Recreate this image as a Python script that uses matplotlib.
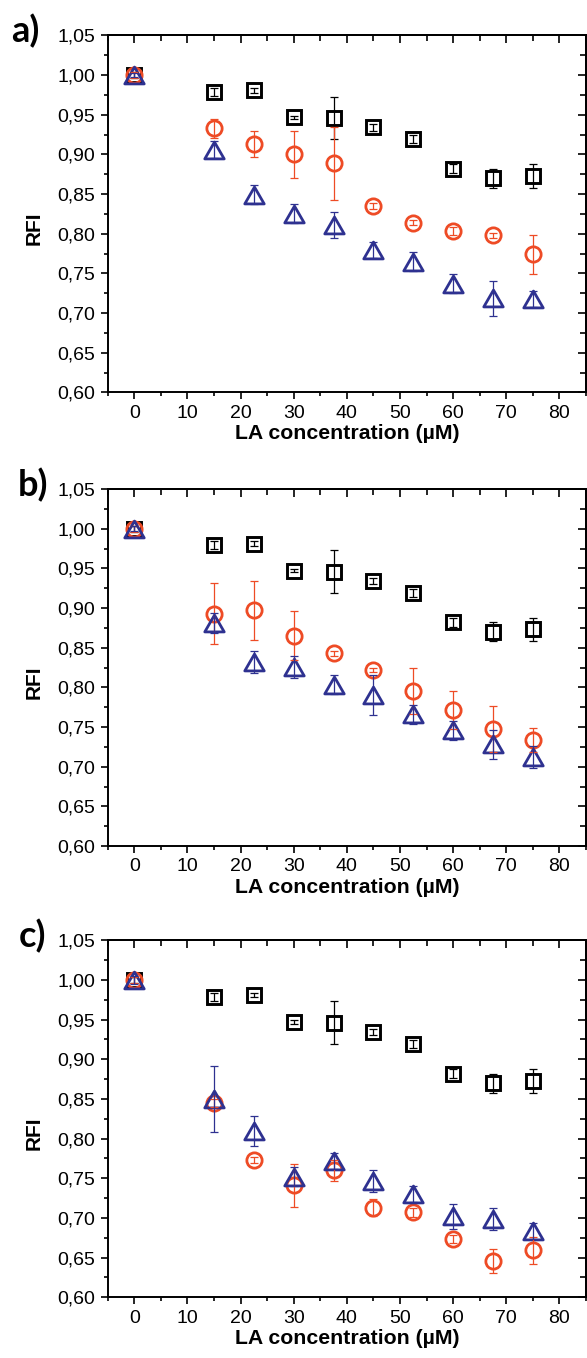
import matplotlib

matplotlib.use("Agg")

import matplotlib.pyplot as plt
from matplotlib.path import Path
from matplotlib.ticker import FuncFormatter, MultipleLocator, NullFormatter

# LA concentration (uM)
la_conc = [0, 15, 22.5, 30, 37.5, 45, 52.5, 60, 67.5, 75]

# control series (squares), same in every panel
ctrl_rfi = [1.000, 0.979, 0.981, 0.947, 0.946, 0.934, 0.919, 0.882, 0.870, 0.873]
ctrl_err = [0.004, 0.005, 0.003, 0.002, 0.027, 0.004, 0.005, 0.006, 0.012, 0.015]

# panel a
a_circ_rfi = [1.000, 0.933, 0.913, 0.900, 0.889, 0.835, 0.814, 0.803, 0.798, 0.774]
a_circ_err = [0.004, 0.012, 0.016, 0.030, 0.046, 0.004, 0.003, 0.005, 0.003, 0.025]
a_tri_rfi = [1.000, 0.906, 0.849, 0.825, 0.811, 0.780, 0.765, 0.737, 0.719, 0.718]
a_tri_err = [0.003, 0.011, 0.012, 0.012, 0.016, 0.010, 0.012, 0.012, 0.022, 0.010]

# panel b
b_circ_rfi = [1.000, 0.893, 0.897, 0.865, 0.843, 0.822, 0.796, 0.772, 0.747, 0.734]
b_circ_err = [0.004, 0.038, 0.037, 0.031, 0.003, 0.003, 0.029, 0.024, 0.029, 0.015]
b_tri_rfi = [1.000, 0.881, 0.832, 0.826, 0.803, 0.790, 0.766, 0.746, 0.728, 0.712]
b_tri_err = [0.003, 0.013, 0.014, 0.014, 0.012, 0.025, 0.012, 0.012, 0.018, 0.014]

# panel c
c_circ_rfi = [1.000, 0.845, 0.773, 0.741, 0.760, 0.713, 0.707, 0.673, 0.646, 0.659]
c_circ_err = [0.004, 0.005, 0.004, 0.027, 0.013, 0.011, 0.006, 0.005, 0.015, 0.017]
c_tri_rfi = [1.000, 0.850, 0.810, 0.752, 0.772, 0.747, 0.730, 0.702, 0.699, 0.684]
c_tri_err = [0.005, 0.042, 0.019, 0.012, 0.010, 0.014, 0.010, 0.016, 0.014, 0.010]

panel_labels = ["a)", "b)", "c)"]
panels = [
    (a_circ_rfi, a_circ_err, a_tri_rfi, a_tri_err),
    (b_circ_rfi, b_circ_err, b_tri_rfi, b_tri_err),
    (c_circ_rfi, c_circ_err, c_tri_rfi, c_tri_err),
]

RED = "#EE4B25"
BLUE = "#2E3190"
TRIANGLE = Path([(-1, -0.866), (1, -0.866), (0, 0.866), (-1, -0.866)],
                [Path.MOVETO, Path.LINETO, Path.LINETO, Path.CLOSEPOLY])

plt.rcParams["font.family"] = ["Liberation Sans", "DejaVu Sans"]

fig = plt.figure(figsize=(5.87, 13.58), dpi=100)
bottoms = [0.7110, 0.3770, 0.0447]
letter_x = [-0.202, -0.188, -0.186]
comma = FuncFormatter(lambda v, pos: f"{v:.2f}".replace(".", ","))


def draw_series(ax, y, err, color, marker, ms, mew):
    ax.errorbar(la_conc, y, yerr=err, fmt="none", ecolor=color, elinewidth=0.9,
                capsize=3.2, capthick=0.9, zorder=4)
    ax.plot(la_conc, y, linestyle="none", marker=marker, markersize=ms,
            markerfacecolor="none", markeredgecolor=color, markeredgewidth=mew, zorder=3)


for bottom, lx, label, (circ, circ_err, tri, tri_err) in zip(bottoms, letter_x, panel_labels, panels):
    ax = fig.add_axes([0.1835, bottom, 0.8148, 0.2629])
    draw_series(ax, ctrl_rfi, ctrl_err, "black", "s", 10, 2.1)
    draw_series(ax, circ, circ_err, RED, "o", 11, 2.0)
    draw_series(ax, tri, tri_err, BLUE, TRIANGLE, 14, 2.0)

    ax.set_xlim(-5, 85)
    ax.set_ylim(0.60, 1.05)
    ax.xaxis.set_major_locator(MultipleLocator(10))
    ax.xaxis.set_minor_locator(MultipleLocator(5))
    ax.yaxis.set_major_locator(MultipleLocator(0.05))
    ax.yaxis.set_minor_locator(MultipleLocator(0.025))
    ax.yaxis.set_major_formatter(comma)
    ax.tick_params(which="both", direction="out", width=1.2, labelsize=14, pad=4)
    ax.tick_params(which="major", length=4.8)
    ax.tick_params(which="minor", length=3)
    for spine in ax.spines.values():
        spine.set_linewidth(1.4)

    # mirrored ticks pointing inwards on top and right
    top = ax.secondary_xaxis("top")
    top.xaxis.set_major_locator(MultipleLocator(10))
    top.xaxis.set_minor_locator(MultipleLocator(5))
    top.xaxis.set_major_formatter(NullFormatter())
    top.tick_params(which="both", direction="in", width=1.2)
    top.tick_params(which="major", length=6)
    top.tick_params(which="minor", length=4)
    top.spines["top"].set_linewidth(1.4)
    right = ax.secondary_yaxis("right")
    right.yaxis.set_major_locator(MultipleLocator(0.05))
    right.yaxis.set_minor_locator(MultipleLocator(0.025))
    right.yaxis.set_major_formatter(NullFormatter())
    right.tick_params(which="both", direction="in", width=1.2)
    right.tick_params(which="major", length=6)
    right.tick_params(which="minor", length=4)
    right.spines["right"].set_linewidth(1.4)

    ax.set_xlabel("LA concentration (\u00b5M)", fontsize=15.3, fontweight="bold", labelpad=2)
    ax.set_ylabel("RFI", fontsize=15, fontweight="bold")
    ax.yaxis.set_label_coords(-0.135, 0.46)
    ax.text(lx, 1.012, label, transform=ax.transAxes, fontsize=26, fontweight="bold",
            family=["Lato", "DejaVu Sans"], ha="left", va="center")

fig.savefig("out.png", dpi=100)
